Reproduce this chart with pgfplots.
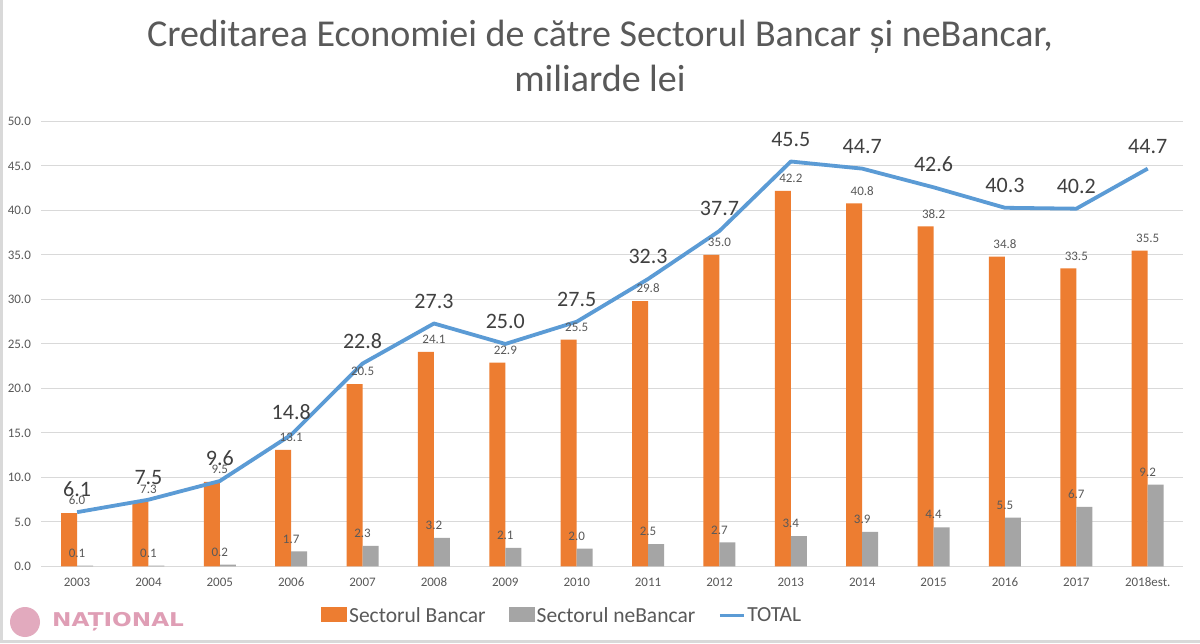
\documentclass[border=0pt]{standalone}
\usepackage{fontspec}
\setmainfont{Carlito}
\newfontfamily\logofont{DejaVu Sans}
\usepackage{pgfplots}
\pgfplotsset{compat=1.18}
\definecolor{cOr}{HTML}{ED7D31}
\definecolor{cGr}{HTML}{A5A5A5}
\definecolor{cBl}{HTML}{5B9BD5}
\definecolor{cGrid}{HTML}{D9D9D9}
\definecolor{cTxt}{HTML}{595959}
\definecolor{cLab}{HTML}{404040}
\definecolor{cPink}{HTML}{D98DA8}
\begin{document}
\begin{tikzpicture}[x=1pt,y=1pt]
\useasboundingbox (0,0) rectangle (1200,643);
\fill[white] (0,0) rectangle (1200,643);
\draw[gray!30, line width=2.5pt] (1.5,643) -- (1.5,1.5) -- (1200,1.5);
\node[anchor=base, text=cTxt, font=\fontsize{38}{44}\selectfont] at (600,596) {Creditarea Economiei de către Sectorul Bancar și neBancar,};
\node[anchor=base, text=cTxt, font=\fontsize{38}{44}\selectfont] at (600,551) {miliarde lei};
\begin{axis}[
  at={(58,86)}, anchor=south west, scale only axis,
  width=1142pt, height=445pt,
  xmin=-0.5, xmax=15.5, ymin=0, ymax=50,
  xtick={0,...,15},
  xticklabels={2003,2004,2005,2006,2007,2008,2009,2010,2011,2012,2013,2014,2015,2016,2017,2018est.},
  ytick={0,5,...,50},
  yticklabel style={/pgf/number format/fixed, /pgf/number format/fixed zerofill, /pgf/number format/precision=1, xshift=-7pt},
  xticklabel style={yshift=-8pt},
  /pgf/number format/assume math mode=true,
  tick label style={font=\fontsize{13}{15}\selectfont, text=cTxt},
  major tick length=0pt,
  axis line style={draw=none},
  ymajorgrids, grid style={cGrid, line width=1pt},
  xtick style={draw=none},
  clip=false,
  legend columns=3,
  legend style={at={(0.456,-0.11)}, anchor=center, draw=none, fill=none,
    font=\fontsize{21.5}{26}\selectfont, text=cTxt,
    /tikz/every even column/.append style={column sep=21pt}},
  nodes near coords style={/pgf/number format/fixed, /pgf/number format/fixed zerofill, /pgf/number format/precision=1},
]
\addplot[ybar, bar width=16pt, bar shift=-8pt, fill=cOr, draw=none,
  nodes near coords, every node near coord/.append style={font=\fontsize{13}{15}\selectfont, text=cTxt, inner sep=2pt, yshift=6pt},
  legend image code/.code={\fill[cOr] (0pt,-7pt) rectangle (26pt,8pt);}]
  coordinates {(0,6.0) (1,7.3) (2,9.5) (3,13.1) (4,20.5) (5,24.1) (6,22.9) (7,25.5) (8,29.8) (9,35.0) (10,42.2) (11,40.8) (12,38.2) (13,34.8) (14,33.5) (15,35.5)};
\addlegendentry{Sectorul Bancar}
\addplot[ybar, bar width=16pt, bar shift=8pt, fill=cGr, draw=none,
  nodes near coords, every node near coord/.append style={font=\fontsize{13}{15}\selectfont, text=cTxt, inner sep=2pt, yshift=6pt},
  legend image code/.code={\fill[cGr] (0pt,-7pt) rectangle (26pt,8pt);}]
  coordinates {(0,0.1) (1,0.1) (2,0.2) (3,1.7) (4,2.3) (5,3.2) (6,2.1) (7,2.0) (8,2.5) (9,2.7) (10,3.4) (11,3.9) (12,4.4) (13,5.5) (14,6.7) (15,9.2)};
\addlegendentry{Sectorul neBancar}
\addplot[sharp plot, cBl, line width=3.8pt, mark=none, line join=round,
  nodes near coords, every node near coord/.append style={font=\fontsize{22}{26}\selectfont, text=cLab, anchor=south, yshift=10pt},
  legend image code/.code={\draw[cBl, line width=3pt] (0pt,0pt) -- (24pt,0pt);}]
  coordinates {(0,6.1) (1,7.5) (2,9.6) (3,14.8) (4,22.8) (5,27.3) (6,25.0) (7,27.5) (8,32.3) (9,37.7) (10,45.5) (11,44.7) (12,42.6) (13,40.3) (14,40.2) (15,44.7)};
\addlegendentry{TOTAL}
\end{axis}
\fill[cPink!75] (25,21) circle (15);
\node[anchor=west, text=cPink!85, font=\logofont\fontsize{19}{24}\selectfont\bfseries, inner sep=0pt] at (52,21) {\scalebox{1.22}[1]{NAȚIONAL}};
\end{tikzpicture}
\end{document}
